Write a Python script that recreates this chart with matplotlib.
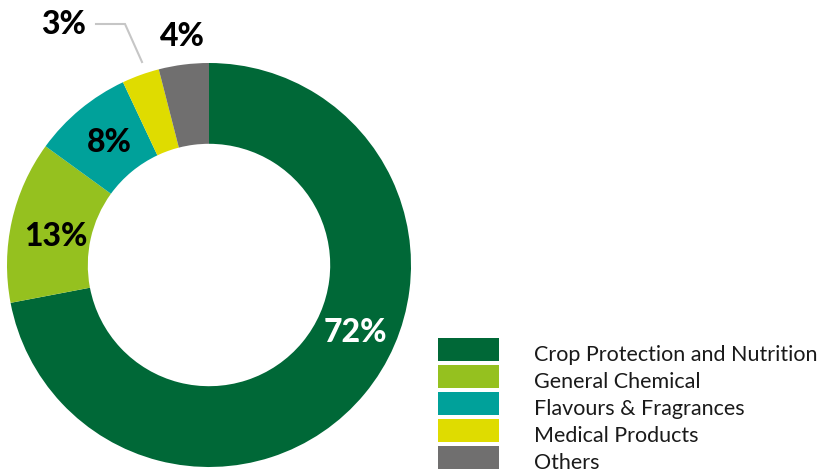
import matplotlib.pyplot as plt
from matplotlib.patches import Rectangle

plt.rcParams["font.family"] = ["Lato", "DejaVu Sans"]

categories = ["Crop Protection and Nutrition", "General Chemical",
              "Flavours & Fragrances", "Medical Products", "Others"]
shares = [72, 13, 8, 3, 4]
colors = ["#006837", "#95c11f", "#00a19a", "#dfdc00", "#706f6f"]
pct_labels = ["72%", "13%", "8%", "3%", "4%"]
label_pos = [(355, 333), (56, 236), (109, 143), (64, 25), (182, 37)]
label_color = ["white", "black", "black", "black", "black"]

W, H = 821, 469
fig = plt.figure(figsize=(W / 100, H / 100), dpi=100, facecolor="white")
ax = fig.add_axes([0, 0, 1, 1])

# donut (y axis is inverted, so counterclock=True draws clockwise on screen)
R = 202
ax.pie(shares, colors=colors, startangle=-90, counterclock=True,
       center=(209, 265), radius=R, frame=True,
       wedgeprops=dict(width=R * 0.4, linewidth=0))
ax.set_xlim(0, W)
ax.set_ylim(H, 0)
ax.set_aspect("equal")
ax.axis("off")

for txt, (x, y), c in zip(pct_labels, label_pos, label_color):
    ax.text(x, y, txt, ha="center", va="center", color=c,
            fontsize=23, fontweight="black")

# leader line for the small slice
ax.plot([96, 125, 142], [24, 24, 62], color="#c6c6c6", lw=1.5,
        solid_joinstyle="miter")

# legend
for i, (name, col) in enumerate(zip(categories, colors)):
    y0 = 338 + i * 27
    ax.add_patch(Rectangle((438, y0), 61, 23, facecolor=col, linewidth=0))
    ax.text(534, y0 + 23, name, ha="left", va="baseline", fontsize=15.5,
            color="#1a1a1a")

fig.savefig("out.png", dpi=100, facecolor="white")
